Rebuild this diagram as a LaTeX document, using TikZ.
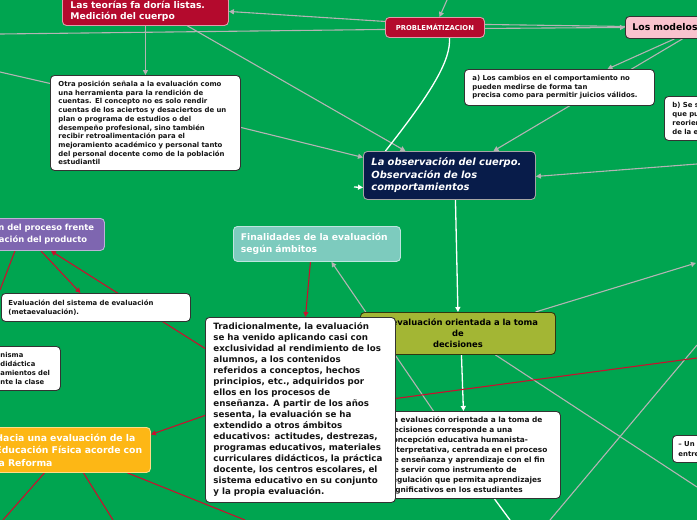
\documentclass[tikz,border=0pt]{standalone}
\usepackage{fontspec}
\setmainfont{DejaVu Sans}
\usetikzlibrary{arrows.meta,calc}
\pgfdeclarelayer{bg}
\pgfsetlayers{bg,main}
\definecolor{bggreen}{RGB}{0,165,80}
\definecolor{crim}{RGB}{180,10,45}
\definecolor{redline}{RGB}{200,16,46}
\definecolor{greyline}{RGB}{180,180,180}
\definecolor{pinkbox}{RGB}{249,195,206}
\definecolor{navybox}{RGB}{8,28,74}
\definecolor{purplebox}{RGB}{126,102,176}
\definecolor{tealbox}{RGB}{125,203,190}
\definecolor{olivebox}{RGB}{163,182,52}
\definecolor{orangebox}{RGB}{253,183,21}
\definecolor{txt}{RGB}{20,20,20}
\newcommand\myfs[2]{\fontsize{#1}{#2}\selectfont\bfseries}
\tikzset{
 base/.style={rectangle, rounded corners=4pt, anchor=north west, align=left, inner xsep=8pt, inner ysep=0pt, line width=0.9pt},
 wbox/.style={base, draw=black!80, fill=white, text=txt},
 gline/.style={draw=greyline, line width=1.1pt},
 rline/.style={draw=redline, line width=1.1pt},
 wline/.style={draw=white, line width=1.3pt},
 arrowtip/.style={-{Triangle[length=5pt,width=5pt]}},
}
\begin{document}
\begin{tikzpicture}[x=1pt,y=-1pt]
\useasboundingbox (0,0) rectangle (697,520);
\clip (0,0) rectangle (697,520);
% ---------- nodes ----------
\node[base, draw=crim!40!white, fill=crim, text=white, text width=150pt, minimum height=29pt, font=\myfs{9.2}{11}] (teorias) at (62,-4) {Las teorías fa doría listas.\\Medición del cuerpo};
\node[base, draw=crim!40!white, fill=crim, text=white, text width=83pt, minimum height=20pt, align=center, font=\myfs{6.8}{8}] (problem) at (385,17) {PROBLEMÁTIZACION};
\node[base, draw=black!80, fill=pinkbox, text=black, text width=84pt, minimum height=22pt, inner xsep=7pt, font=\myfs{9.3}{11}] (modelos) at (625,16) {Los modelos};
\node[wbox, text width=174pt, minimum height=95pt, font=\myfs{6.9}{8.7}] (otra) at (50,75) {Otra posición señala a la evaluación como\\una herramienta para la rendición de\\cuentas. El concepto no es solo rendir\\cuentas de los aciertos y desaciertos de un\\plan o programa de estudios o del\\desempeño profesional, sino también\\recibir retroalimentación para el\\mejoramiento académico y personal tanto\\del personal docente como de la población\\estudiantil};
\node[wbox, text width=174pt, minimum height=36pt, font=\myfs{6.9}{8.6}] (amod) at (464,69) {a) Los cambios en el comportamiento no\\pueden medirse de forma tan\\precisa como para permitir juicios válidos.};
\node[wbox, text width=60pt, minimum height=44pt, font=\myfs{6.9}{8.7}] (bmod) at (664,96) {b) Se s\\que pu\\reorien\\de la e};
\node[base, draw=gray!70, fill=navybox, text=white, text width=156pt, minimum height=48pt, font=\myfs{9.9}{12.5}\itshape] (navy) at (363,151) {La observación del cuerpo.\\Observación de los\\comportamientos};
\node[base, draw=purplebox!50!white, fill=purplebox, text=white, text width=143pt, minimum height=32pt, font=\myfs{8.4}{12}] (purple) at (-55,218) {Evaluación del proceso frente\\a la evaluación del producto};
\node[base, draw=tealbox!50!white, fill=tealbox, text=white, text width=152pt, minimum height=35pt, inner xsep=7.5pt, font=\myfs{9.2}{12}] (final) at (233,226) {Finalidades de la evaluación\\según ámbitos};
\node[wbox, text width=175pt, minimum height=28pt, inner xsep=7pt, font=\myfs{6.9}{9}] (sistema) at (1,293) {Evaluación del sistema de evaluación\\(metaevaluación).};
\node[wbox, text width=52pt, minimum height=44pt, font=\myfs{6.8}{8.7}] (box11) at (-8,346) {nisma\\didáctica\\amientos del\\nte la clase};
\node[base, draw=black!70!olivebox, fill=olivebox, text=black, text width=179pt, minimum height=42pt, align=center, font=\myfs{8.4}{11}] (olive) at (360,312) {La evaluación orientada a la toma\\de\\decisiones};
\node[wbox, text width=164pt, minimum height=87pt, font=\myfs{7.4}{10}] (dec) at (380,411) {La evaluación orientada a la toma de\\decisiones corresponde a una\\concepción educativa humanista-\\interpretativa, centrada en el proceso\\de enseñanza y aprendizaje con el fin\\de servir como instrumento de\\regulación que permita aprendizajes\\significativos en los estudiantes};
\node[wbox, text width=174pt, minimum height=185pt, font=\myfs{8.7}{11}] (trad) at (205,317) {Tradicionalmente, la evaluación\\se ha venido aplicando casi con\\exclusividad al rendimiento de los\\alumnos, a los contenidos\\referidos a conceptos, hechos\\principios, etc., adquiridos por\\ellos en los procesos de\\enseñanza. A partir de los años\\sesenta, la evaluación se ha\\extendido a otros ámbitos\\educativos: actitudes, destrezas,\\programas educativos, materiales\\curriculares didácticos, la práctica\\docente, los centros escolares, el\\sistema educativo en su conjunto\\y la propia evaluación.};
\node[base, draw=orangebox!50!white, fill=orangebox, text=white, text width=148pt, minimum height=45pt, inner xsep=7pt, font=\myfs{9.3}{12.5}] (orange) at (-12,427) {Hacia una evaluación de la\\Educación Física acorde con\\la Reforma};
\node[wbox, text width=50pt, minimum height=27pt, inner xsep=6pt, font=\myfs{6.9}{9.5}] (un) at (672,435) {– Un\\entre};
% ---------- free ends ----------
\coordinate (L1) at (0,34);
\coordinate (L2) at (0,72);
\coordinate (L3) at (0,290);
\coordinate (T1) at (447,0);
\coordinate (R1) at (697,164);
\coordinate (R2) at (696,263);
\coordinate (R3) at (697,487);
\coordinate (R4) at (697,345);
\coordinate (R5) at (697,358);
\coordinate (B1) at (510,520);
\coordinate (B2) at (550,520);
\coordinate (B3) at (245,520);
\coordinate (B4) at (3,520);
\coordinate (B5) at (113,520);
\coordinate (W1) at (354,187);
% ---------- connectors ----------
\begin{pgfonlayer}{bg}
\fill[bggreen] (0,0) rectangle (697,520);
\draw[gline, arrowtip] ([yshift=6pt]problem.west) -- ([yshift=-0.5pt]teorias.east);
\draw[gline] (L1) -- ([yshift=-2pt]problem.west);
\draw[gline, arrowtip] (teorias.south) -- (otra.north);
\draw[gline, arrowtip] ([xshift=42pt]teorias.south) -- ([xshift=-44pt]navy.north);
\draw[gline, arrowtip] ([yshift=-4.5pt]otra.east) -- ([yshift=18pt]navy.west);
\draw[gline] (L2) -- ([yshift=39.5pt]otra.west);
\draw[wline] ([xshift=14.5pt]problem.south) .. controls (451,60) and (432,92) .. ([xshift=-64pt]navy.north);
\draw[gline, arrowtip] (modelos.south) -- ([xshift=48pt]amod.north);
\draw[gline, arrowtip] ([xshift=8pt]modelos.south) -- ([xshift=44pt]navy.north);
\draw[gline, arrowtip] (R1) -- ([yshift=-1pt]navy.east);
\draw[gline] ([yshift=3pt]problem.east) -- ([yshift=1pt]modelos.west);
\draw[gline, arrowtip] ([yshift=-1pt]problem.east) -- ([yshift=0pt]modelos.west);
\draw[gline, arrowtip] (T1) -- ([xshift=4.5pt]problem.north);
\draw[wline, arrowtip] ([xshift=6pt]navy.south) -- (olive.north);
\draw[wline, arrowtip] ([xshift=3.5pt]olive.south) -- ([xshift=-7pt]dec.north);
\draw[wline] ([xshift=24pt]dec.south) -- (B1);
\draw[wline, arrowtip] (W1) -- ([yshift=-12pt]navy.west);
\draw[gline, arrowtip] ([xshift=77.5pt]olive.north) -- (R2);
\draw[gline, arrowtip] ([xshift=-37pt]dec.north) -- ([xshift=14.5pt]final.south);
\draw[gline] ([xshift=37.5pt]olive.south) -- (R3);
\draw[gline] (R4) -- (B2);
\draw[rline, arrowtip] ([xshift=-6.5pt]final.south) -- ([xshift=5pt]trad.north);
\draw[rline, arrowtip] ([yshift=61.5pt]trad.west) -- ([xshift=26pt]purple.south);
\draw[rline, arrowtip] ([xshift=16pt]purple.south) -- ([xshift=-15.5pt]sistema.north);
\draw[rline] ([xshift=-10pt]purple.south) -- (L3);
\draw[rline, arrowtip] ([yshift=-5.5pt]trad.west) -- ([yshift=15.5pt]orange.east);
\draw[rline] ([xshift=58pt]orange.south) -- (B3);
\draw[rline] ([xshift=-25pt]orange.south) -- (B4);
\draw[rline] ([xshift=14pt]orange.south) -- (B5);
\draw[rline] ([yshift=11.5pt]trad.east) -- (R5);
\end{pgfonlayer}
\end{tikzpicture}
\end{document}
